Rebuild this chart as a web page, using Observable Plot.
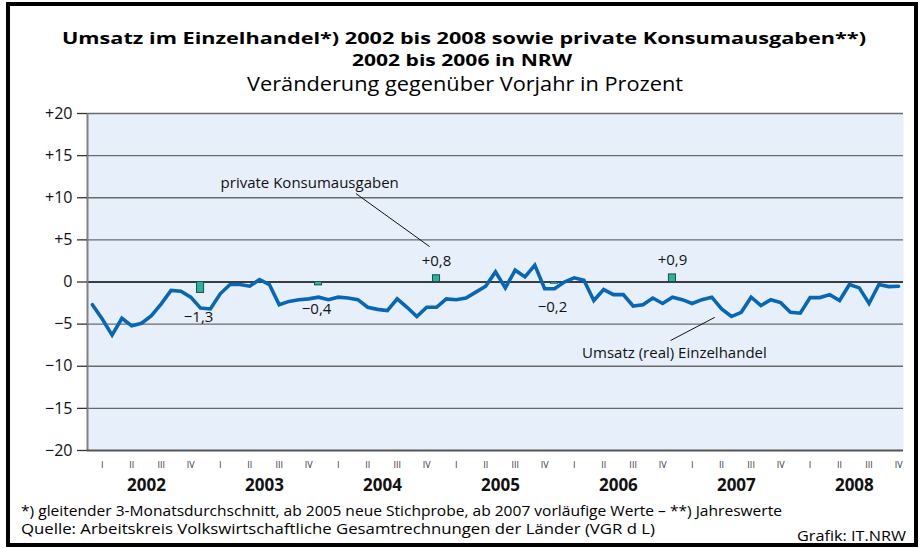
<!DOCTYPE html>
<html><head><meta charset="utf-8">
<script src="https://cdn.jsdelivr.net/npm/d3@7"></script>
<script src="https://cdn.jsdelivr.net/npm/@observablehq/plot@0.6"></script>
<style>
body{margin:0;background:#fff;}
#wrap{position:relative;width:922px;height:548px;overflow:hidden;font-family:"Open Sans",sans-serif;}
#chart{position:absolute;left:0;top:0;}
#txt{position:absolute;left:0;top:0;}
#frame{position:absolute;left:6px;top:2px;width:912px;height:545px;box-sizing:border-box;border:4px solid #000;}
</style></head><body>
<div id="wrap"><div id="chart"></div><svg id="txt" width="922" height="548"></svg><div id="frame"></div></div>
<script>
const years = [2002, 2003, 2004, 2005, 2006, 2007, 2008];
const quarterLabels = ["I", "II", "III", "IV"];
const yTicks = [-20, -15, -10, -5, 0, 5, 10, 15, 20];
// Umsatz (real) Einzelhandel, monthly Jan 2002 – Nov 2008
const retail = [
  -2.7, -4.4, -6.3, -4.3, -5.2, -4.9, -4.0, -2.6, -1.0, -1.1, -1.8, -3.1,
  -3.2, -1.4, -0.3, -0.3, -0.5, 0.3, -0.3, -2.7, -2.3, -2.1, -2.0, -1.8,
  -2.1, -1.8, -1.9, -2.1, -3.0, -3.25, -3.4, -2.0, -3.0, -4.1, -3.0, -3.0,
  -2.0, -2.1, -1.9, -1.2, -0.5, 1.2, -0.7, 1.4, 0.6, 2.0, -0.8, -0.8,
  0.0, 0.5, 0.2, -2.2, -0.9, -1.5, -1.5, -2.85, -2.7, -1.9, -2.55, -1.8,
  -2.1, -2.55, -2.1, -1.8, -3.2, -4.1, -3.6, -1.8, -2.8, -2.1, -2.45, -3.6,
  -3.7, -1.85, -1.85, -1.5, -2.2, -0.3, -0.7, -2.55, -0.3, -0.55, -0.5
];
// private Konsumausgaben, annual values
const consumptionYears = [2002, 2003, 2004, 2005, 2006];
const consumption = [-1.3, -0.4, 0.8, -0.2, 0.9];
const annotationTexts = ["private Konsumausgaben", "Umsatz (real) Einzelhandel"];
const titleLines = [
  "Umsatz im Einzelhandel*) 2002 bis 2008 sowie private Konsumausgaben**)",
  "2002 bis 2006 in NRW"
];
const subtitle = "Veränderung gegenüber Vorjahr in Prozent";
const footnotes = [
  "*) gleitender 3-Monatsdurchschnitt, ab 2005 neue Stichprobe, ab 2007 vorläufige Werte – **) Jahreswerte",
  "Quelle: Arbeitskreis Volkswirtschaftliche Gesamtrechnungen der Länder (VGR d L)"
];
const credit = "Grafik: IT.NRW";

const sign = v => v > 0 ? "+" : v < 0 ? "\u2212" : "";
const fmtTick = v => sign(v) + Math.abs(v);
const fmtVal = v => sign(v) + Math.abs(v).toFixed(1).replace(".", ",");

const monthData = retail.map((v, i) => ({m: i + 0.5, v}));
const barData = consumption.map((v, k) => ({
  m: (consumptionYears[k] - years[0]) * 12 + 11.5, v, label: fmtVal(v)
}));
const qTicks = years.flatMap((y, yi) => quarterLabels.map((q, qi) => yi * 12 + qi * 3 + 1.5));
const yearTicks = years.map((y, yi) => yi * 12 + 6);

// annotation anchors in data units (month index, percent)
const bar2004 = barData[2], dipMonth = 65;
const notes = [
  {x: 22.6, y: 11.75, text: annotationTexts[0]},
  {x: 59.7, y: -8.4, text: annotationTexts[1]}
];
const leaders = [
  {x1: 27.3, y1: 10.5, x2: bar2004.m - 0.7, y2: bar2004.v + 3.4},
  {x1: 59.3, y1: -6.95, x2: dipMonth - 1.2, y2: -4.2}
];

const chart = Plot.plot({
  width: 922, height: 548,
  marginTop: 113, marginBottom: 98, marginLeft: 87, marginRight: 19,
  x: {domain: [0, 83]},
  y: {domain: [-20, 20]},
  style: {fontFamily: "'Open Sans', sans-serif", background: "transparent", color: "#111"},
  marks: [
    Plot.frame({fill: "#e7f0fa", stroke: null}),
    Plot.ruleY(yTicks.filter(d => d !== 0 && d !== -20), {stroke: "#6a6a6a", strokeWidth: 1.3}),
    Plot.ruleY([0], {stroke: "#000", strokeWidth: 1.6}),
    Plot.ruleX([0], {stroke: "#808080", strokeWidth: 2}),
    Plot.ruleY([-20], {stroke: "#555", strokeWidth: 2}),
    Plot.axisY({ticks: yTicks, tickFormat: fmtTick, tickSize: 10, tickPadding: 5, fontSize: 16, label: null, stroke: "#333", strokeWidth: 1.3}),
    Plot.axisX({ticks: qTicks, tickFormat: d => quarterLabels[Math.floor(((d - 1.5) % 12) / 3)], tickSize: 0, tickPadding: 11, fontSize: 9, label: null, fill: "#333"}),
    Plot.axisX({ticks: yearTicks, tickFormat: d => String(years[Math.floor(d / 12)]), tickSize: 0, tickPadding: 28, fontSize: 17, fontWeight: "bold", label: null}),
    Plot.rectY(barData, {x1: d => d.m - 0.36, x2: d => d.m + 0.36, y1: 0, y2: "v", fill: "#2bb3a0", stroke: "#1b4f48", strokeWidth: 1}),
    Plot.line(monthData, {x: "m", y: "v", stroke: "#0767b5", strokeWidth: 3.6, strokeLinejoin: "miter", strokeMiterlimit: 3}),
    Plot.text(barData.filter(d => d.v > 0), {x: "m", y: "v", text: "label", dy: -14, fontSize: 15}),
    Plot.text(barData.filter(d => d.v < 0), {x: "m", y: "v", text: "label", dy: 24, dx: -2, fontSize: 15}),
    Plot.link(leaders, {x1: "x1", y1: "y1", x2: "x2", y2: "y2", stroke: "#111", strokeWidth: 1}),
    Plot.text(notes, {x: "x", y: "y", text: "text", fontSize: 15})
  ]
});
document.getElementById("chart").appendChild(chart);

// titles and footer
const svg = d3.select("#txt").style("font-family", "'Open Sans', sans-serif");
const addText = (t, x, y, len, size, weight, anchor) => svg.append("text")
  .attr("x", x).attr("y", y).attr("text-anchor", anchor).attr("font-size", size)
  .attr("font-weight", weight).attr("textLength", len).attr("lengthAdjust", "spacingAndGlyphs")
  .attr("fill", "#000").text(t);
addText(titleLines[0], 464, 44, 804, 16, "bold", "middle");
addText(titleLines[1], 462, 66, 220, 16, "bold", "middle");
addText(subtitle, 465, 91, 436, 20, "normal", "middle");
addText(footnotes[0], 21, 516, 761, 14, "normal", "start");
addText(footnotes[1], 21, 534, 634, 14, "normal", "start");
addText(credit, 906, 541, 109, 14, "normal", "end");
</script>
</body></html>
